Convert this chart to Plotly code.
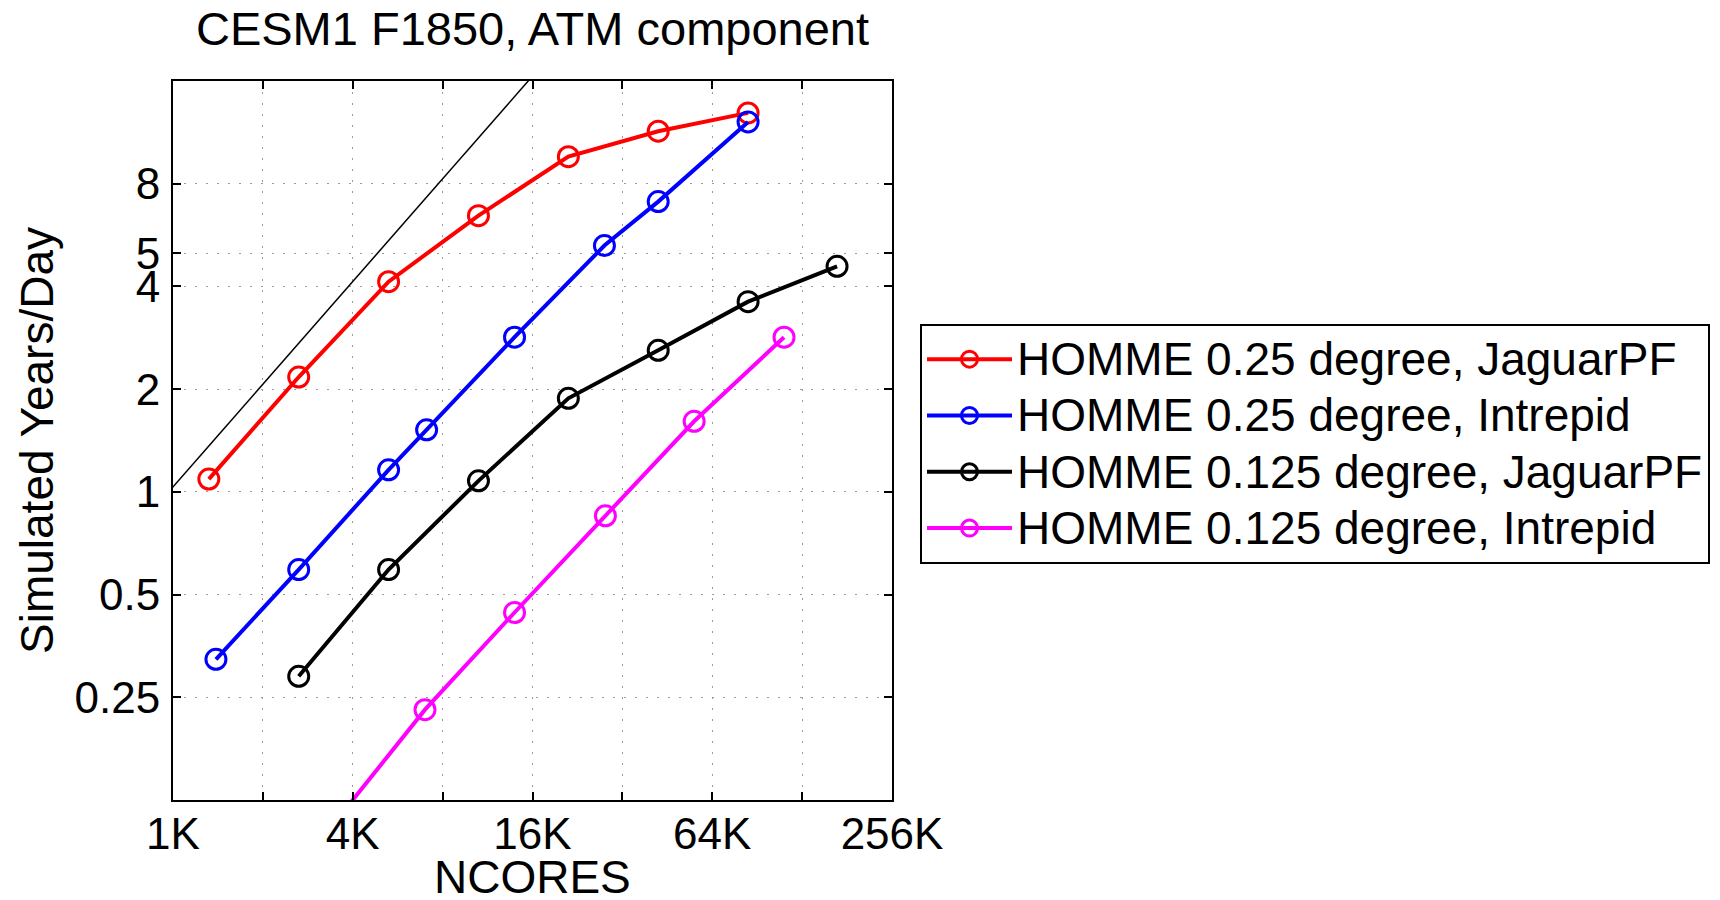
import plotly.graph_objects as go
import math

# ---------------- data ----------------
jag025_cores = [1350, 2700, 5400, 10800, 21600, 43200, 86400]
jag025_ypd = [1.09, 2.17, 4.13, 6.45, 9.6, 11.4, 12.9]

int025_cores = [1426, 2700, 5400, 7240, 14264, 28530, 43200, 86400]
int025_ypd = [0.323, 0.592, 1.16, 1.52, 2.84, 5.27, 7.09, 12.14]

jag0125_cores = [2700, 5400, 10800, 21600, 43200, 86400, 171600]
jag0125_ypd = [0.288, 0.592, 1.077, 1.88, 2.6, 3.61, 4.58]

int0125_cores = [3584, 7150, 14264, 28750, 57000, 114000]
int0125_ypd = [0.108, 0.23, 0.443, 0.851, 1.61, 2.84]

ideal_cores = [1000, 32000]
ideal_ypd = [1.01, 32.3]

series_names = [
    "HOMME 0.25 degree, JaguarPF",
    "HOMME 0.25 degree, Intrepid",
    "HOMME 0.125 degree, JaguarPF",
    "HOMME 0.125 degree, Intrepid",
]
series_colors = ["#ff0000", "#0000ff", "#000000", "#ff00ff"]

x_tickvals = [1024, 2048, 4096, 8192, 16384, 32768, 65536, 131072, 262144]
x_ticktext = ["1K", "", "4K", "", "16K", "", "64K", "", "256K"]
y_tickvals = [0.25, 0.5, 1, 2, 4, 5, 8]
y_ticktext = ["0.25", "0.5", "1", "2", "4", "5", "8"]

FONT = "Liberation Sans, Arial, Helvetica, sans-serif"
LEGEND_TEXT_SIZE = 46

fig = go.Figure()

fig.add_trace(go.Scatter(
    x=ideal_cores, y=ideal_ypd, mode="lines",
    line=dict(color="black", width=1.5), showlegend=False, hoverinfo="skip"))

all_x = [jag025_cores, int025_cores, jag0125_cores, int0125_cores]
all_y = [jag025_ypd, int025_ypd, jag0125_ypd, int0125_ypd]
for name, col, xs, ys in zip(series_names, series_colors, all_x, all_y):
    fig.add_trace(go.Scatter(
        x=xs, y=ys, mode="lines+markers",
        name=f"<span style='font-size:{LEGEND_TEXT_SIZE}px'>{name}</span>",
        line=dict(color=col, width=4),
        marker=dict(symbol="circle-open", size=20, color=col,
                    line=dict(width=3, color=col)),
        cliponaxis=True))

axis_common = dict(
    type="log", showline=True, linecolor="black", linewidth=2,
    mirror="ticks", ticks="inside", ticklen=8, tickwidth=1.5, tickcolor="black",
    showgrid=True, gridcolor="#9a9a9a", gridwidth=1.2, griddash="2px,9px",
    zeroline=False,
    tickfont=dict(family=FONT, size=44, color="black"),
)

fig.update_xaxes(
    **axis_common,
    range=[math.log10(1024), math.log10(262144)],
    tickmode="array", tickvals=x_tickvals, ticktext=x_ticktext,
    ticklabelstandoff=-6,
)
fig.update_yaxes(
    **axis_common,
    range=[math.log10(0.125), math.log10(16)],
    tickmode="array", tickvals=y_tickvals, ticktext=y_ticktext,
    ticklabelstandoff=2,
    title=dict(text="Simulated Years/Day", font=dict(family=FONT, size=46, color="black"),
               standoff=6),
)

# x-axis title placed as an annotation so it can sit at the very bottom edge
fig.add_annotation(
    text="NCORES", xref="paper", yref="paper", x=0.5, y=0,
    xanchor="center", yanchor="middle", yshift=-77, showarrow=False,
    font=dict(family=FONT, size=46, color="black"),
)

fig.update_layout(
    width=1720, height=900,
    paper_bgcolor="white", plot_bgcolor="white",
    margin=dict(l=173, r=828, t=81, b=100, autoexpand=False),
    title=dict(text="CESM1 F1850, ATM component", x=0.5, xref="paper", xanchor="center",
               y=1 - 29 / 900, yref="container", yanchor="middle",
               font=dict(family=FONT, size=47, color="black")),
    legend=dict(
        x=920 / 1720, y=1 - 324 / 900, xref="container", yref="container",
        xanchor="left", yanchor="top",
        bgcolor="white", bordercolor="black", borderwidth=2,
        font=dict(family=FONT, size=41, color="black"),
        itemwidth=85, tracegroupgap=0,
    ),
)

fig.write_html("out.html")
